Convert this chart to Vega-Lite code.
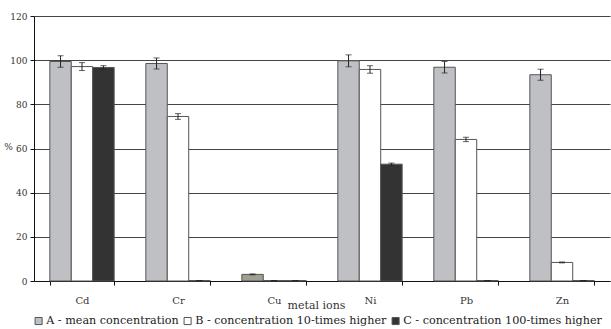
{
  "$schema": "https://vega.github.io/schema/vega-lite/v6.json",
  "autosize": {"type": "none"},
  "padding": {"left": 34, "top": 16, "right": 1, "bottom": 48},
  "width": 576,
  "height": 265,
  "background": "white",
  "config": {
    "view": {"stroke": null},
    "font": "DejaVu Serif",
    "legend": {"labelFont": "DejaVu Serif"},
    "axis": {"labelFont": "DejaVu Serif", "titleFont": "DejaVu Serif", "labelColor": "#333", "titleColor": "#333", "titleFontWeight": "normal", "domainColor": "#111", "tickColor": "#111"}
  },
  "data": {
    "values": [
      {"metal": "Cd", "series": "A - mean concentration", "value": 99.4, "lo": 96.8, "hi": 102.0},
      {"metal": "Cd", "series": "B - concentration 10-times higher", "value": 97.1, "lo": 95.3, "hi": 98.9},
      {"metal": "Cd", "series": "C - concentration 100-times higher", "value": 96.7, "lo": 95.9, "hi": 97.5},
      {"metal": "Cr", "series": "A - mean concentration", "value": 98.5, "lo": 96.0, "hi": 101.0},
      {"metal": "Cr", "series": "B - concentration 10-times higher", "value": 74.5, "lo": 73.2, "hi": 75.8},
      {"metal": "Cr", "series": "C - concentration 100-times higher", "value": 0.2, "lo": 0.2, "hi": 0.2},
      {"metal": "Cu", "series": "A - mean concentration", "value": 3.0, "lo": 2.8, "hi": 3.2},
      {"metal": "Cu", "series": "B - concentration 10-times higher", "value": 0.2, "lo": 0.2, "hi": 0.2},
      {"metal": "Cu", "series": "C - concentration 100-times higher", "value": 0.2, "lo": 0.2, "hi": 0.2},
      {"metal": "Ni", "series": "A - mean concentration", "value": 99.7, "lo": 97.0, "hi": 102.4},
      {"metal": "Ni", "series": "B - concentration 10-times higher", "value": 95.8, "lo": 94.1, "hi": 97.5},
      {"metal": "Ni", "series": "C - concentration 100-times higher", "value": 52.9, "lo": 52.4, "hi": 53.4},
      {"metal": "Pb", "series": "A - mean concentration", "value": 96.8, "lo": 94.2, "hi": 99.4},
      {"metal": "Pb", "series": "B - concentration 10-times higher", "value": 64.1, "lo": 63.1, "hi": 65.1},
      {"metal": "Pb", "series": "C - concentration 100-times higher", "value": 0.2, "lo": 0.2, "hi": 0.2},
      {"metal": "Zn", "series": "A - mean concentration", "value": 93.4, "lo": 90.9, "hi": 95.9},
      {"metal": "Zn", "series": "B - concentration 10-times higher", "value": 8.4, "lo": 8.2, "hi": 8.6},
      {"metal": "Zn", "series": "C - concentration 100-times higher", "value": 0.2, "lo": 0.2, "hi": 0.2}
    ]
  },
  "encoding": {
    "x": {
      "field": "metal", "type": "nominal", "sort": null,
      "scale": {"paddingInner": 0.33, "paddingOuter": 0.165},
      "axis": {"labelAngle": 0, "tickBand": "extent", "tickSize": 4, "labelFontSize": 10, "labelPadding": 10,
               "title": "metal ions", "titleFontSize": 11, "titleX": 282, "titleY": 27, "titleAlign": "center", "titleBaseline": "alphabetic"}
    },
    "xOffset": {"field": "series", "type": "nominal", "scale": {"paddingInner": 0, "paddingOuter": 0}}
  },
  "layer": [
    {
      "mark": {"type": "bar", "stroke": "#555", "strokeWidth": 1},
      "encoding": {
        "y": {
          "field": "value", "type": "quantitative",
          "scale": {"domain": [0, 120], "nice": false},
          "axis": {"values": [0, 20, 40, 60, 80, 100, 120], "grid": true, "gridColor": "#444", "gridWidth": 1,
                   "tickSize": 4, "labelFontSize": 9, "labelPadding": 3,
                   "title": "%", "titleAngle": 0, "titleFontSize": 9, "titleX": -26, "titleY": 135, "titleAlign": "center"}
        },
        "fill": {
          "condition": {"test": "datum.metal === 'Cu' && datum.series === 'A - mean concentration'", "value": "#a29e91"},
          "field": "series", "type": "nominal",
          "scale": {"range": ["#bfc0c4", "#ffffff", "#333333"]},
          "legend": {
            "orient": "none", "legendX": -1, "legendY": 299, "direction": "horizontal", "title": null,
            "symbolType": "square", "symbolSize": 50, "symbolStrokeColor": "#555", "symbolStrokeWidth": 1,
            "symbolOpacity": 1, "labelFont": "DejaVu Serif", "labelFontSize": 11.2, "labelColor": "#222",
            "labelOffset": 2, "columnPadding": 3, "labelLimit": 400
          }
        }
      }
    },
    {
      "mark": {"type": "rule", "color": "#222", "strokeWidth": 1},
      "encoding": {"y": {"field": "lo", "type": "quantitative"}, "y2": {"field": "hi"}}
    },
    {
      "mark": {"type": "tick", "color": "#222", "size": 6, "thickness": 1},
      "encoding": {"y": {"field": "lo", "type": "quantitative"}}
    },
    {
      "mark": {"type": "tick", "color": "#222", "size": 6, "thickness": 1},
      "encoding": {"y": {"field": "hi", "type": "quantitative"}}
    }
  ]
}
